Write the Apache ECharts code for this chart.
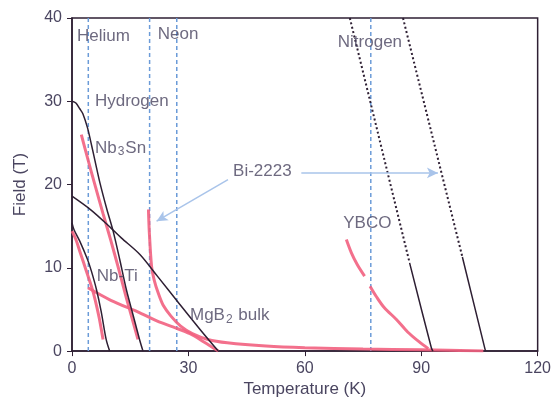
<!DOCTYPE html>
<html>
<head>
<meta charset="utf-8">
<script src="https://cdn.jsdelivr.net/npm/echarts@6/dist/echarts.min.js"></script>
<style>
  html, body { margin: 0; padding: 0; background: #fff; }
  #chart { width: 554px; height: 403px; }
</style>
</head>
<body>
<div id="chart"></div>
<script>
// Axis ticks
const tempTicks = [0, 30, 60, 90, 120];
const fieldTicks = [0, 10, 20, 30, 40];

// Boiling points of the cryogens (K)
const cryogens = [
  { name: 'Helium', T: 4.2 },
  { name: 'Hydrogen', T: 20 },
  { name: 'Neon', T: 27 },
  { name: 'Nitrogen', T: 77 }
];

// Upper critical field lines, [T (K), B (T)]
const nb3snHc2 = [[0,30],[1,29.8],[2,29.1],[2.8,28.5],[4,26.8],[5.1,24.6],[6,22.7],[7.2,20.2],[9,17],[10.6,14.4],[12.3,11],[14,7.4],[15.7,4.4],[17.4,1.4],[18.3,0]];
const nbtiHc2 = [[0,15.4],[0.5,14.6],[2,13.2],[4,11],[5,9.6],[6.3,7.4],[7.5,4.8],[8.8,1.4],[9.7,0]];
const mgb2Hc2 = [[0,18.6],[5,16.9],[10,14.8],[12.7,13.6],[17.5,11.6],[22,9],[27.8,5.6],[33,2.6],[37.7,0]];

// High-temperature superconductors: dotted part above, solid part below
const ybcoHc2Dotted = [[71.6,40],[87,10.6]];
const ybcoHc2Solid = [[87,10.6],[92.6,0.4],[93,0]];
const bi2223Hc2Dotted = [[85.3,40],[100.6,11.3]];
const bi2223Hc2Solid = [[100.6,11.3],[106.4,0.3],[106.6,0]];

// Irreversibility fields, [T (K), B (T)]
const nb3snIrr = [[2.4,26],[4,23.2],[6,19.8],[8,16.5],[10,13.3],[12,9.9],[14,6.4],[15.5,3.9],[17,1.4]];
const nbtiIrr = [[0,14.4],[1,13.4],[2,12],[3,10.6],[4,9.2],[5,7.8],[6,6.1],[7,4],[8,1.4]];
const mgb2Irr = [[4.1,7.6],[10,6.1],[17.5,4.6],[22,3.6],[26,2.9],[30.4,2.1],[34,1.1],[37.7,0]];
const bi2223Irr = [[19.7,17],[19.9,14.5],[20.5,10.2],[21.2,8.5],[22.2,7],[23.5,5.5],[25.5,4.2],[28,3],[31,2.1],[35,1.4],[40,1],[50,0.6],[60,0.4],[75,0.25],[90,0.15],[106,0]];
const ybcoIrrUpper = [[70.7,13.4],[72,11.8],[73.5,10.4],[75.4,9]];
const ybcoIrrLower = [[76.8,7.8],[78.5,6.5],[80.5,5.2],[83.6,3.8],[86.5,2.3],[89.5,1.1],[91.8,0.3]];

// Bi-2223 pointer arrows, [from, to]
const bi2223Arrows = [
  [[40.2,20.6],[21.8,15.6]],
  [[59.1,21.4],[94.3,21.4]]
];

// Text annotations, [T, B, text]
const annotations = [
  [1.3, 37.8, 'Helium'],
  [22.1, 38.0, 'Neon'],
  [5.9, 30.0, 'Hydrogen'],
  [68.5, 37.1, 'Nitrogen'],
  [5.9, 24.4, 'Nb{sub|3}Sn'],
  [6.4, 9.0, 'Nb-Ti'],
  [30.4, 4.3, 'MgB{sub|2} bulk'],
  [69.9, 15.4, 'YBCO'],
  [41.5, 21.6, 'Bi-2223']
];

const FONT = '"Liberation Sans", Arial, sans-serif';
const TEXT = '#4a4560';
const DARK = '#2e1f33';
const PINK = '#f2617f';
const BLUE = '#6b9bd8';

const series = [];

cryogens.forEach(c => {
  series.push({
    type: 'line', silent: true, symbol: 'none', z: 1,
    data: [[c.T, fieldTicks[0]], [c.T, fieldTicks[fieldTicks.length - 1]]],
    lineStyle: { color: BLUE, width: 1.5, type: [4, 3] }
  });
});

function pinkLine(data) {
  series.push({
    type: 'line', silent: true, symbol: 'none', smooth: 0.3, z: 2,
    data, lineStyle: { color: PINK, width: 3, opacity: 0.9 }
  });
}
function darkLine(data, dotted) {
  series.push({
    type: 'line', silent: true, symbol: 'none', smooth: dotted ? false : 0.3, z: 3,
    data, lineStyle: { color: DARK, width: dotted ? 2 : 1.5, type: dotted ? [2, 2.5] : 'solid' }
  });
}

[nb3snIrr, nbtiIrr, mgb2Irr, bi2223Irr, ybcoIrrUpper, ybcoIrrLower].forEach(pinkLine);
[nb3snHc2, nbtiHc2, mgb2Hc2, ybcoHc2Solid, bi2223Hc2Solid].forEach(d => darkLine(d, false));
[ybcoHc2Dotted, bi2223Hc2Dotted].forEach(d => darkLine(d, true));

// arrows
series.push({
  type: 'line', silent: true, symbol: 'none', data: [],
  markLine: {
    silent: true, symbol: ['none', 'arrow'], symbolSize: [8, 11],
    label: { show: false },
    lineStyle: { color: '#a9c4ea', width: 1.5, type: 'solid' },
    data: bi2223Arrows.map(a => [{ coord: a[0] }, { coord: a[1] }])
  }
});

// text annotations
series.push({
  type: 'scatter', silent: true, symbolSize: 0, z: 5,
  data: annotations.map(a => ({ value: [a[0], a[1]], name: a[2] })),
  label: {
    show: true, position: 'right', distance: 0,
    formatter: p => p.name,
    color: TEXT, fontFamily: FONT, fontSize: 17,
    rich: {
      sub: { fontSize: 12, color: TEXT, fontFamily: FONT, verticalAlign: 'bottom', padding: [8, 1, 0, 1] }
    }
  }
});

const chart = echarts.init(document.getElementById('chart'), null, { renderer: 'canvas' });
chart.setOption({
  animation: false,
  backgroundColor: '#fff',
  grid: { left: 72, right: 16, top: 18, bottom: 51, show: true, borderColor: DARK, borderWidth: 1.5, containLabel: false },
  xAxis: {
    type: 'value', min: tempTicks[0], max: tempTicks[tempTicks.length - 1], interval: 30,
    name: 'Temperature (K)', nameLocation: 'middle', nameGap: 24,
    nameTextStyle: { color: TEXT, fontFamily: FONT, fontSize: 17 },
    axisLine: { show: true, lineStyle: { color: DARK, width: 1.5 } },
    axisTick: { show: true, length: 5, lineStyle: { color: DARK } },
    axisLabel: { color: TEXT, fontFamily: FONT, fontSize: 16, margin: 9 },
    splitLine: { show: false }
  },
  yAxis: {
    type: 'value', min: fieldTicks[0], max: fieldTicks[fieldTicks.length - 1], interval: 10,
    name: 'Field (T)', nameLocation: 'middle', nameGap: 43, nameRotate: 90,
    nameTextStyle: { color: TEXT, fontFamily: FONT, fontSize: 17 },
    axisLine: { show: true, lineStyle: { color: DARK, width: 1.5 } },
    axisTick: { show: true, length: 5, lineStyle: { color: DARK } },
    axisLabel: { color: TEXT, fontFamily: FONT, fontSize: 16, margin: 10 },
    splitLine: { show: false }
  },
  series
});
</script>
</body>
</html>
